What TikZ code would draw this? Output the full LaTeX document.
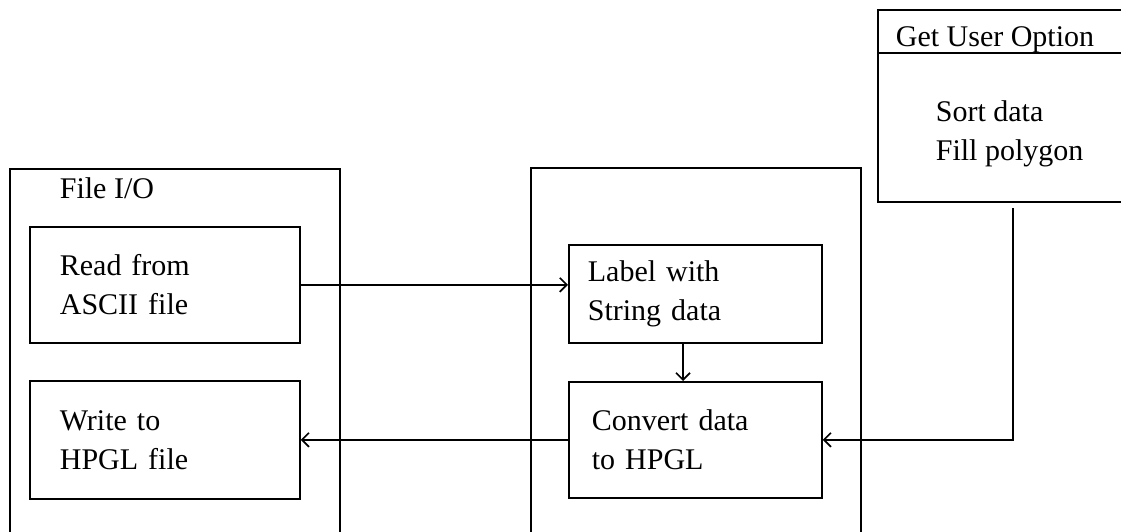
\documentclass[tikz,border=0pt]{standalone}
\usepackage{fontspec}
\setmainfont{Liberation Serif}
\usetikzlibrary{arrows.meta,positioning,calc}

\tikzset{
  groupbox/.style={draw, rectangle, anchor=north west, inner sep=0pt},
  procbox/.style={draw, rectangle, anchor=north west, align=left, inner ysep=0pt,
    font=\fontsize{30}{39}\selectfont},
  boxtitle/.style={anchor=base west, inner sep=0pt, font=\fontsize{30}{39}\selectfont},
}

\begin{document}
\begin{tikzpicture}[x=1pt, y=-1pt, line width=1.7pt, >={Straight Barb[length=7pt,width=14pt]}]
  \useasboundingbox (0,0) rectangle (1121,532);
  \clip (0,0) rectangle (1121,532);

  % outer groups
  \node[groupbox, minimum width=330pt, minimum height=380pt] (fileio) at (9,168) {};
  \node[boxtitle] at (59,198) {File I/O};
  \node[groupbox, minimum width=330pt, minimum height=380pt] (convgrp) at (530,167) {};

  % user option box
  \node[groupbox, minimum width=260pt, minimum height=192pt] (opt) at (877,9) {};
  \draw ($(opt.north west)+(0,44)$) -- ($(opt.north east)+(0,44)$);
  \node[boxtitle] at (895,47) {Get User Option};
  \node[boxtitle, align=left, anchor=north west] at (935,100) {Sort data\\Fill polygon};

  % process boxes
  \node[procbox, inner xsep=30pt, text width=210pt, minimum height=116pt] (read) at (29,226) {Read from\\ASCII file};
  \node[procbox, inner xsep=30pt, text width=210pt, minimum height=118pt] (write) at (29,380) {Write to\\HPGL file};
  \node[procbox, inner xsep=19pt, text width=215pt, minimum height=98pt] (label) at (568,244) {Label with\\String data};
  \node[procbox, inner xsep=23pt, text width=207pt, minimum height=116pt] (conv) at (568,381) {Convert data\\to HPGL};

  % connectors
  \coordinate (optout) at (1013,208);
  \coordinate (labelout) at ($(label.south west)+(115,0)$);
  \draw[->] (read.east) -- (read.east -| label.west);
  \draw[->] (labelout) -- (labelout |- conv.north);
  \draw[->] (conv.west) -- (conv.west -| write.east);
  \draw[->] (optout) |- (conv.east);
\end{tikzpicture}
\end{document}
